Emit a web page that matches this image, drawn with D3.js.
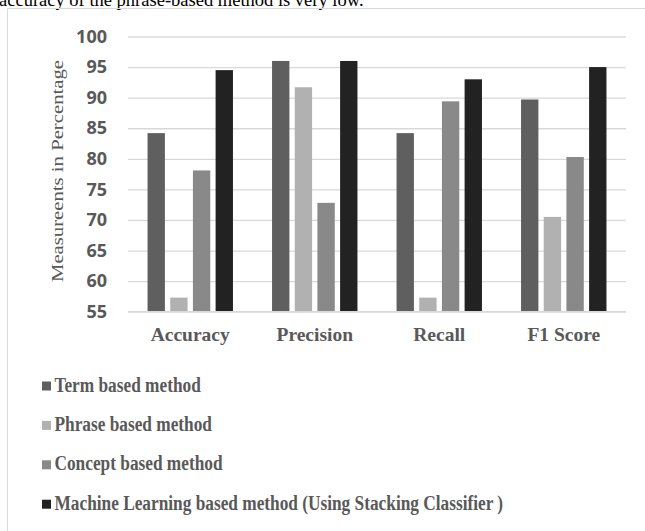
<!DOCTYPE html>
<html>
<head>
<meta charset="utf-8">
<script src="https://cdn.jsdelivr.net/npm/d3@7"></script>
<style>
  html, body { margin: 0; padding: 0; background: #fff; }
  svg { display: block; }
</style>
</head>
<body>
<svg id="chart" width="645" height="531"></svg>
<script>
// ---- data ----
const categories = ["Accuracy", "Precision", "Recall", "F1 Score"];
const seriesNames = [
  "Term based method",
  "Phrase based method",
  "Concept based method",
  "Machine Learning based method (Using Stacking Classifier )"
];
const termValues    = [84.2, 96.0, 84.2, 89.7];
const phraseValues  = [57.3, 91.7, 57.3, 70.5];
const conceptValues = [78.1, 72.8, 89.4, 80.3];
const mlValues      = [94.5, 96.0, 93.0, 95.0];
const yTicks = [55, 60, 65, 70, 75, 80, 85, 90, 95, 100];
const seriesColors = ["#5f5f5f", "#b1b1b1", "#898989", "#222222"];
const topText = "accuracy of the phrase-based method is very low.";
const yTitle = "Measureents in Percentage";

const seriesValues = [termValues, phraseValues, conceptValues, mlValues];

// ---- layout ----
const svg = d3.select("#chart");
const plot = { left: 128, right: 626, top: 36.5, bottom: 311.7 };

const x0 = d3.scaleBand().domain(categories)
  .range([plot.left, plot.right]).paddingInner(0.314).paddingOuter(0.157);
const x1 = d3.scaleBand().domain(d3.range(seriesNames.length))
  .range([0, x0.bandwidth()]).paddingInner(0.235).paddingOuter(0);
const y = d3.scaleLinear().domain([55, 100]).range([plot.bottom, plot.top]);

// body text line above the figure (clipped by the page top, as in the source)
svg.append("text")
  .attr("x", -1).attr("y", 6)
  .attr("font-family", "Liberation Serif, Times New Roman, serif")
  .attr("font-size", 18.5).attr("fill", "#000")
  .text(topText);

// frame
svg.append("path")
  .attr("d", "M7.5,531 L7.5,8.5 L645,8.5")
  .attr("fill", "none").attr("stroke", "#d9d9d9").attr("stroke-width", 1);

// gridlines + y tick labels
const yAxis = d3.axisLeft(y).tickValues(yTicks)
  .tickSize(-(plot.right - plot.left)).tickPadding(21).tickFormat(d3.format("d"));
const gy = svg.append("g").attr("transform", `translate(${plot.left},0)`).call(yAxis);
gy.select(".domain").remove();
gy.selectAll(".tick line").attr("stroke", "#d9d9d9").attr("stroke-width", 1.3);
gy.selectAll(".tick text")
  .attr("font-family", "Open Sans, sans-serif")
  .attr("font-weight", "bold").attr("font-size", 18)
  .attr("fill", "#595959");

// bars
const groups = svg.append("g").selectAll("g").data(categories).join("g")
  .attr("transform", d => `translate(${x0(d)},0)`);
groups.selectAll("rect")
  .data((c, ci) => seriesValues.map((vals, si) => ({ si, v: vals[ci] })))
  .join("rect")
  .attr("x", d => x1(d.si))
  .attr("width", x1.bandwidth())
  .attr("y", d => y(d.v))
  .attr("height", d => y(55) - y(d.v))
  .attr("fill", d => seriesColors[d.si]);

// baseline on top
svg.append("line")
  .attr("x1", plot.left).attr("x2", plot.right)
  .attr("y1", y(55)).attr("y2", y(55))
  .attr("stroke", "#d9d9d9").attr("stroke-width", 1.3);

// category labels
const xAxis = d3.axisBottom(x0).tickSize(0).tickPadding(0);
const gx = svg.append("g").attr("transform", `translate(0,${y(55)})`).call(xAxis);
gx.select(".domain").remove();
gx.selectAll(".tick text")
  .attr("y", 29).attr("dy", 0)
  .attr("font-family", "Liberation Serif, Times New Roman, serif")
  .attr("font-weight", "bold").attr("font-size", 19.5)
  .attr("fill", "#595959");

// y title
svg.append("text")
  .attr("transform", "translate(63,171) rotate(-90)")
  .attr("text-anchor", "middle")
  .attr("font-family", "Liberation Serif, Times New Roman, serif")
  .attr("font-size", 16)
  .attr("textLength", 222).attr("lengthAdjust", "spacingAndGlyphs")
  .attr("fill", "#595959")
  .text(yTitle);

// legend
const legend = svg.append("g").selectAll("g").data(seriesNames).join("g")
  .attr("transform", (d, i) => `translate(42,${391.5 + i * 39.4})`);
legend.append("rect")
  .attr("x", 0).attr("y", -10).attr("width", 9).attr("height", 9)
  .attr("fill", (d, i) => seriesColors[i]);
legend.append("text")
  .attr("transform", "translate(12.5,0) scale(1,1.15)")
  .attr("font-family", "Liberation Serif, Times New Roman, serif")
  .attr("font-weight", "bold").attr("font-size", 17.3)
  .attr("fill", "#595959")
  .text(d => d);
</script>
</body>
</html>
